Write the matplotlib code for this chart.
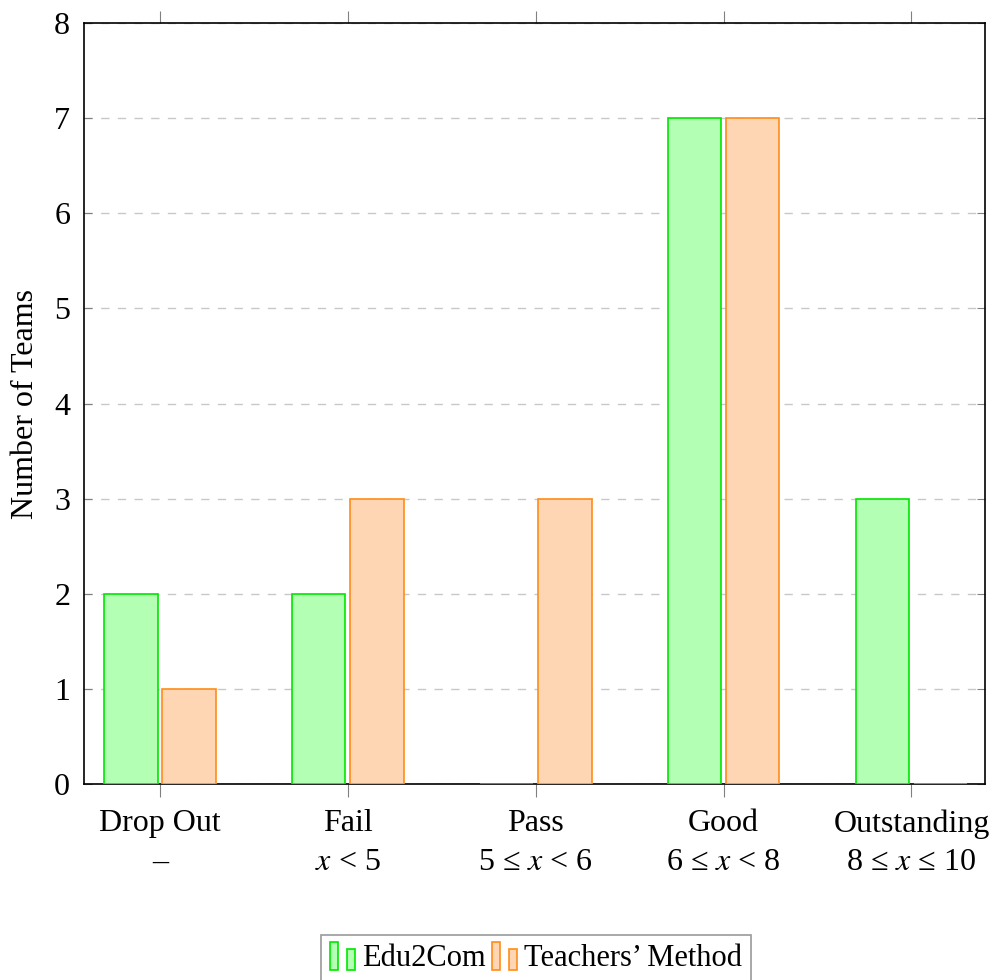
import matplotlib
matplotlib.use("Agg")
import matplotlib.pyplot as plt
from matplotlib.patches import Rectangle
from matplotlib.legend_handler import HandlerBase
import numpy as np

plt.rcParams['font.family'] = ['Liberation Serif', 'DejaVu Serif']
plt.rcParams['mathtext.fontset'] = 'stix'

categories = ["Drop Out", "Fail", "Pass", "Good", "Outstanding"]
ranges = ["–", r"$x$ < 5", r"5 ≤ $x$ < 6", r"6 ≤ $x$ < 8", r"8 ≤ $x$ ≤ 10"]
edu2com = [2, 2, 0, 7, 3]
teachers = [1, 3, 3, 7, 0]
series_names = ["Edu2Com", "Teachers’ Method"]

green_face, green_edge = "#b3ffb3", "#00e600"
orange_face, orange_edge = "#ffd6b3", "#ff8c1a"


# pgfplots-style legend image: two small bars of different heights
class TwoBars(HandlerBase):
    def create_artists(self, legend, orig, xd, yd, w, h, fontsize, trans):
        fc = orig.get_facecolor()
        ec = orig.get_edgecolor()
        bw = w * 0.3
        r1 = Rectangle((xd, yd - h * 0.2), bw, h * 1.35, fc=fc, ec=ec, lw=1.2, transform=trans)
        r2 = Rectangle((xd + w * 0.62, yd - h * 0.2), bw, h * 1.0, fc=fc, ec=ec, lw=1.2, transform=trans)
        return [r1, r2]


fig = plt.figure(figsize=(9.92, 9.8), dpi=100)
ax = fig.add_axes([0.0847, 0.2, 0.908, 0.7765])

x = np.arange(len(categories))
w = 0.285
off = 0.155
b1 = ax.bar(x - off, edu2com, w, color=green_face, edgecolor=green_edge, linewidth=1.2, zorder=3)
b2 = ax.bar(x + off, teachers, w, color=orange_face, edgecolor=orange_edge, linewidth=1.2, zorder=3)

ax.set_xlim(-0.404, 4.39)
ax.set_ylim(0, 8)
ax.set_xticks(x)
ax.set_xticklabels([c + "\n" + r for c, r in zip(categories, ranges)], fontsize=23, linespacing=1.45)
ax.set_yticks(range(0, 9))
ax.tick_params(axis='y', direction='in', right=True, length=6, color='#808080', labelsize=23, pad=10)
ax.tick_params(axis='x', direction='out', top=True, length=9, color='#808080', pad=9)
ax.grid(axis='y', linestyle=(0, (6, 6)), color='#c8c8c8', linewidth=1, zorder=0)
for s in ax.spines.values():
    s.set_linewidth(1.2)
ax.set_ylabel("Number of Teams", fontsize=23, labelpad=10)

leg = fig.legend([b1[0], b2[0]], series_names, handler_map={b1[0]: TwoBars(), b2[0]: TwoBars()},
                 loc='lower center', bbox_to_anchor=(0.54, -0.018), ncol=2, fontsize=22,
                 frameon=True, fancybox=False, edgecolor='#808080', handlelength=0.9,
                 handletextpad=0.15, columnspacing=0.2, borderpad=0.3)
leg.get_frame().set_linewidth(1.2)

fig.savefig("out.png", dpi=100)
